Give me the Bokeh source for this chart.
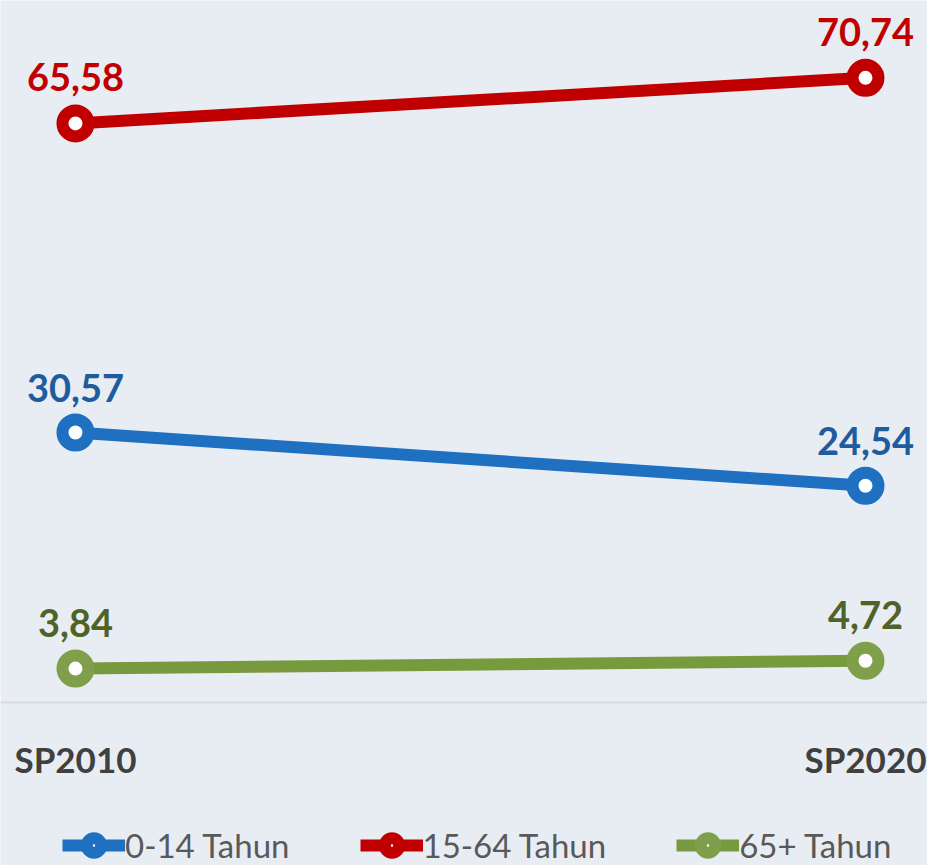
from bokeh.plotting import figure
from bokeh.models import ColumnDataSource, Legend, LegendItem, Range1d, Span
from bokeh.core.properties import value
from bokeh.embed import file_html
from bokeh.resources import INLINE

periods = ["SP2010", "SP2020"]
series_names = ["0-14 Tahun", "15-64 Tahun", "65+ Tahun"]
val_0_14 = [30.57, 24.54]
val_15_64 = [65.58, 70.74]
val_65 = [3.84, 4.72]

line_colors = ["#1F70C1", "#C00000", "#779A3E"]
marker_colors = ["#1F70C1", "#C00000", "#7F9F4A"]
label_colors = ["#1F5C9E", "#C00000", "#4F6228"]
label_offsets = [-45, -46, -46]

BG = "#E8EDF4"
FONT = "Lato"

p = figure(frame_width=927, frame_height=865, output_backend="svg", toolbar_location=None,
           x_range=Range1d(-0.0949, 1.0785), y_range=Range1d(-18.46, 79.5),
           min_border_top=0, min_border_left=0, min_border_right=0, min_border_bottom=0)
p.background_fill_color = BG
p.border_fill_color = BG
p.outline_line_color = None
p.grid.visible = False
p.xaxis.visible = False
p.yaxis.visible = False

xs = list(range(len(periods)))

# category axis: baseline line and period labels
p.add_layout(Span(location=0, dimension="width", line_color="#D9D9D9", line_width=2))
psrc = ColumnDataSource(dict(x=xs, y=[0] * len(xs), lab=periods))
p.text("x", "y", text="lab", source=psrc, text_color="#404040", text_font=value(FONT),
       text_font_style="bold", text_font_size="35px", text_align="center",
       text_baseline="alphabetic", y_offset=57)

items = []
for name, vals, lc, mc, tc, off in zip(series_names, [val_0_14, val_15_64, val_65],
                                       line_colors, marker_colors, label_colors, label_offsets):
    src = ColumnDataSource(dict(x=xs, y=vals, lab=[f"{v:.2f}".replace(".", ",") for v in vals]))
    r1 = p.line("x", "y", source=src, line_color=lc, line_width=12)
    r2 = p.scatter("x", "y", source=src, size=26, line_width=12, line_color=mc, fill_color="white")
    p.text("x", "y", text="lab", source=src, text_color=tc, text_font=value(FONT),
           text_font_style="bold", text_font_size="38px", text_align="center",
           text_baseline="alphabetic", y_offset=off)
    items.append(LegendItem(label=name, renderers=[r1, r2]))

legend = Legend(items=items, orientation="horizontal", location=(62, 0),
                background_fill_alpha=0, border_line_color=None,
                glyph_width=63, glyph_height=36, label_standoff=0, spacing=70,
                label_text_font=FONT, label_text_font_size="33px",
                label_text_color="#595959", padding=0, margin=0)
p.add_layout(legend, "center")

open("out.html", "w").write(file_html(p, INLINE))
